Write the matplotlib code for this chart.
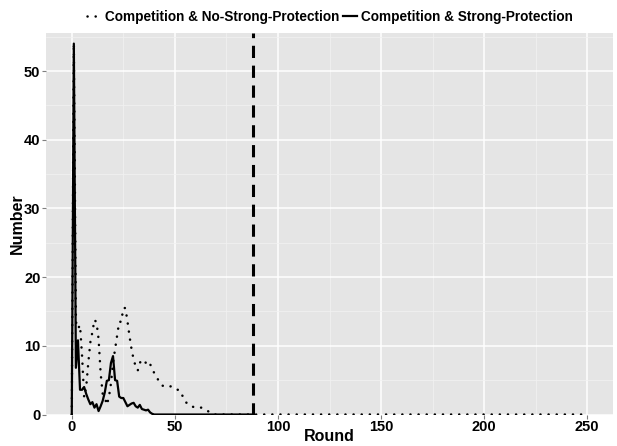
import matplotlib
matplotlib.use("Agg")
import matplotlib.pyplot as plt
import numpy as np

plt.rcParams["font.family"] = ["Liberation Sans", "DejaVu Sans"]

# round-by-round counts
no_strong = [0, 54, 13.5, 12.5, 13, 8.5, 2.5, 4, 7.5, 10.5,
             12, 13.8, 13.4, 11, 6, 3, 2.5, 1.4, 2.5, 4.5,
             7.5, 9.5, 11.5, 13.5, 13.5, 15.5, 15.5, 13.6, 11.4, 9.5,
             8, 7, 6.4, 7.5, 8, 7.8, 7.5, 7.8, 7.3, 6.8,
             6, 5.5, 5, 4.5, 4.2, 4.1, 4.1, 4.0, 4.1, 3.9,
             3.8, 3.6, 3.6, 3.0, 2.6, 1.9, 1.6, 1.3, 1.2, 1.1,
             1.0, 1.0, 1.0, 1.0, 0.8, 0.6, 0.5, 0.3, 0.1] + [0] * 182
strong = [0, 54, 6.8, 10.8, 3.6, 3.6, 4, 3, 2.2, 1.5,
          1.8, 1.0, 1.5, 0.5, 1.2, 2, 3.2, 4.9, 5, 7.5,
          8.5, 5, 4.9, 2.6, 2.4, 2.4, 1.8, 1.2, 1.4, 1.6,
          1.7, 1.2, 1.0, 1.4, 0.8, 0.7, 0.6, 0.7, 0.3, 0.1] + [0] * 49
cutoff = 88

rounds_a = np.arange(len(no_strong))
rounds_b = np.arange(len(strong))

fig = plt.figure(figsize=(6.17, 4.46), dpi=100)
ax = fig.add_axes([46 / 617, 31.5 / 446, (613 - 46) / 617, (414.5 - 33.3) / 446])
ax.set_facecolor("#E5E5E5")

ax.plot(rounds_a, no_strong, color="black", lw=1.8, ls=(0, (0.05, 3.2)),
        dash_capstyle="round", label="Competition & No-Strong-Protection")
ax.plot(rounds_b, strong, color="black", lw=1.6,
        label="Competition & Strong-Protection")
ax.axvline(cutoff, color="black", lw=2.2, ls=(0, (4, 2.5)))

ax.set_xlim(-12.5, 262.5)
ax.set_ylim(0, 55.5)
ax.set_xticks([0, 50, 100, 150, 200, 250])
ax.set_xticks([25, 75, 125, 175, 225], minor=True)
ax.set_yticks([0, 10, 20, 30, 40, 50])
ax.set_yticks([5, 15, 25, 35, 45, 55], minor=True)
ax.grid(which="major", color="white", lw=1.1)
ax.grid(which="minor", color="#F2F2F2", lw=0.5)
ax.set_axisbelow(True)
for s in ax.spines.values():
    s.set_visible(False)
ax.tick_params(which="major", length=3, color="#7F7F7F", labelsize=10.5, pad=1)
ax.tick_params(which="minor", length=0)
for lab in ax.get_xticklabels() + ax.get_yticklabels():
    lab.set_fontweight("bold")
    lab.set_color("black")

ax.set_xlabel("Round", fontsize=11.5, fontweight="bold", va="center")
ax.xaxis.set_label_coords(0.5, -0.057)
ax.set_ylabel("Number", fontsize=11.5, fontweight="bold", va="center")
ax.yaxis.set_label_coords(-0.05, 0.5)

fig.legend(loc="center", bbox_to_anchor=(0.535, 0.963), ncol=2, frameon=False,
           handlelength=1.0, handletextpad=0.3, columnspacing=0.3,
           prop={"weight": "bold", "size": 9.8})

fig.savefig("out.png", dpi=100)
